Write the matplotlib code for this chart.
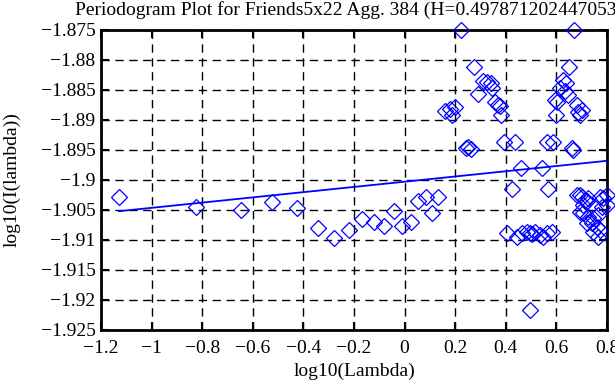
import matplotlib
matplotlib.use('Agg')
import matplotlib.pyplot as plt
from matplotlib.ticker import FuncFormatter

# periodogram points, log10(lambda) vs log10(I(lambda))
log_lambda = [
    -1.129, -0.824, -0.647, -0.524, -0.425, -0.342, -0.279, -0.220, -0.168,
    -0.121, -0.081, -0.042, -0.010, 0.025, 0.053, 0.085, 0.132, 0.108,
    0.223, 0.670, 0.274, 0.310, 0.326, 0.342, 0.346, 0.290, 0.357, 0.369,
    0.377, 0.381, 0.160, 0.179, 0.199, 0.187, 0.243, 0.251, 0.263, 0.393,
    0.436, 0.460, 0.543, 0.425, 0.567, 0.650, 0.626, 0.638, 0.614, 0.634,
    0.646, 0.602, 0.595, 0.598, 0.681, 0.685, 0.701, 0.693, 0.563, 0.587,
    0.662, 0.666,
    0.405, 0.444, 0.464, 0.484, 0.504, 0.515, 0.535, 0.547, 0.563, 0.583,
    0.496, 0.496,
    0.681, 0.693, 0.701, 0.713, 0.725, 0.705, 0.721, 0.772, 0.784, 0.800,
    0.780, 0.800, 0.693, 0.705, 0.725, 0.745, 0.764, 0.721, 0.741, 0.761,
    0.772, 0.745, 0.764,
]
log_power = [
    -1.9028, -1.9045, -1.9050, -1.9037, -1.9047, -1.9080, -1.9097, -1.9083, -1.9065,
    -1.9070, -1.9077, -1.9052, -1.9077, -1.9070, -1.9035, -1.9028, -1.9028, -1.9055,
    -1.8750, -1.8750, -1.8812, -1.8835, -1.8837, -1.8838, -1.8847, -1.8857, -1.8870, -1.8875,
    -1.8877, -1.8892, -1.8885, -1.8882, -1.8878, -1.8892, -1.8947, -1.8945, -1.8948, -1.8937,
    -1.8937, -1.8980, -1.8980, -1.9015, -1.9015, -1.8812, -1.8833, -1.8838, -1.8847, -1.8852,
    -1.8858, -1.8870, -1.8867, -1.8892, -1.8875, -1.8887, -1.8883, -1.8892, -1.8937, -1.8937,
    -1.8947, -1.8950,
    -1.9088, -1.9095, -1.9088, -1.9087, -1.9090, -1.9087, -1.9092, -1.9095, -1.9088, -1.9087,
    -1.9088, -1.9217,
    -1.9025, -1.9025, -1.9028, -1.9033, -1.9030, -1.9042, -1.9035, -1.9028, -1.9030, -1.9025,
    -1.9045, -1.9042, -1.9053, -1.9055, -1.9062, -1.9063, -1.9058, -1.9072, -1.9072, -1.9078,
    -1.9083, -1.9087, -1.9095,
]

# least-squares line as drawn (ends)
fit_x = [-1.129, 0.800]
fit_y = [-1.9052, -1.8968]

title = 'Periodogram Plot for Friends5x22 Agg. 384 (H=0.497871202447053)'
xticks = [-1.2, -1.0, -0.8, -0.6, -0.4, -0.2, 0.0, 0.2, 0.4, 0.6, 0.8]
yticks = [-1.925, -1.92, -1.915, -1.91, -1.905, -1.9, -1.895, -1.89, -1.885, -1.88, -1.875]

plt.rcParams['font.family'] = ['Liberation Serif', 'DejaVu Serif']
plt.rcParams['font.size'] = 14

blue = '#0000ff'

fig = plt.figure(figsize=(6.15, 3.85), dpi=100)
ax = fig.add_axes([101/615, 1 - 330/385, 506/615, 300/385])

ax.plot(log_lambda, log_power, linestyle='', marker='D', ms=8, mfc='none',
        mec=blue, mew=0.9, clip_on=False, zorder=3)
ax.plot(fit_x, fit_y, color=blue, lw=1.3, zorder=4)

ax.set_xlim(-1.2, 0.8)
ax.set_ylim(-1.925, -1.875)
ax.set_xticks(xticks)
ax.set_yticks(yticks)

def fmt(v, pos):
    s = '%g' % round(v, 4)
    if s == '-0':
        s = '0'
    return s.replace('-', '\u2212')

ax.xaxis.set_major_formatter(FuncFormatter(fmt))
ax.yaxis.set_major_formatter(FuncFormatter(fmt))

ax.grid(True, color='black', linestyle=(0, (6, 4)), linewidth=1)
ax.tick_params(direction='in', length=6, width=1.5, top=True, right=True,
               pad=4, colors='black')
ax.tick_params(axis='x', pad=7)
for sp in ax.spines.values():
    sp.set_linewidth(2)

ax.set_xlabel('log10(Lambda)')
ax.set_ylabel('log10(I(lambda))')
ax.xaxis.set_label_coords(0.502, -0.11)
ax.yaxis.set_label_coords(-0.158, 0.5)

fig.text(75/615, 1 - 10/385, title, ha='left', va='center', fontsize=14)

fig.savefig('out.png', dpi=100)
